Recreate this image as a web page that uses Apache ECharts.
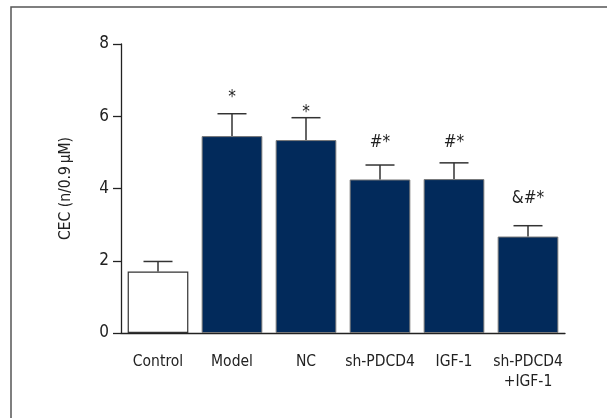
<!DOCTYPE html>
<html>
<head>
<meta charset="utf-8">
<script src="https://cdn.jsdelivr.net/npm/echarts@6/dist/echarts.min.js"></script>
<style>html,body{margin:0;padding:0;background:#fff}#c{width:607px;height:418px}</style>
</head>
<body>
<div id="c"></div>
<script>
var categories = ['Control', 'Model', 'NC', 'sh-PDCD4', 'IGF-1', 'sh-PDCD4\n+IGF-1'];
var means = [1.70, 5.45, 5.34, 4.25, 4.26, 2.67];
var errorTops = [1.98, 6.07, 5.96, 4.65, 4.71, 2.97];
var annotations = ['', '*', '*', '#*', '#*', '&#*'];
var annotationLevels = [null, 6.57, 6.16, 5.33, 5.33, 3.77];
var yTicks = [0, 2, 4, 6, 8];

var FONT = "'Liberation Sans Narrow','DejaVu Sans Condensed','Noto Sans',sans-serif";
var TXT = '#222';
var NAVY = '#022a5b';

var chart = echarts.init(document.getElementById('c'), null, {renderer: 'canvas'});

var barData = means.map(function (v, i) {
  return {
    value: v,
    itemStyle: i === 0
      ? {color: '#ffffff', borderColor: '#333', borderWidth: 1.2}
      : {color: NAVY, borderColor: '#777', borderWidth: 1}
  };
});

var errData = means.map(function (v, i) { return [i, v, errorTops[i]]; });
var annData = annotations.map(function (t, i) { return [i, annotationLevels[i], t]; })
  .filter(function (d) { return d[2]; });

chart.setOption({
  animation: false,
  textStyle: {fontFamily: FONT},
  grid: {left: 121, top: 44, right: 42, bottom: 85},
  xAxis: {
    type: 'category',
    data: categories,
    axisLine: {lineStyle: {color: '#222', width: 1.3}},
    axisTick: {alignWithLabel: true, length: 7, lineStyle: {color: '#222', width: 1.3}},
    axisLabel: {color: TXT, fontSize: 15.5, fontFamily: FONT, margin: 19, lineHeight: 20, interval: 0}
  },
  yAxis: {
    type: 'value',
    min: yTicks[0],
    max: yTicks[yTicks.length - 1],
    interval: 2,
    name: 'CEC (n/0.9\u2009μM)',
    nameLocation: 'middle',
    nameGap: 47,
    nameTextStyle: {color: TXT, fontSize: 15.5, fontFamily: FONT},
    axisLine: {show: true, lineStyle: {color: '#222', width: 1.3}},
    axisTick: {show: true, length: 8, lineStyle: {color: '#222', width: 1.3}},
    axisLabel: {color: TXT, fontSize: 17, fontFamily: FONT, margin: 12},
    splitLine: {show: false}
  },
  graphic: [{
    type: 'rect',
    shape: {x: 11, y: 7, width: 700, height: 500},
    style: {fill: 'none', stroke: '#555', lineWidth: 1.5},
    z: -1
  }],
  series: [
    {
      type: 'bar',
      data: barData,
      barWidth: '82%',
      z: 2
    },
    {
      type: 'custom',
      data: errData,
      z: 3,
      renderItem: function (params, api) {
        var x = api.value(0);
        var lo = api.coord([x, api.value(1)]);
        var hi = api.coord([x, api.value(2)]);
        var half = 14.5;
        var st = {stroke: '#333', lineWidth: 1.5, fill: 'none'};
        return {
          type: 'group',
          children: [
            {type: 'line', shape: {x1: lo[0], y1: lo[1], x2: hi[0], y2: hi[1]}, style: st},
            {type: 'line', shape: {x1: hi[0] - half, y1: hi[1], x2: hi[0] + half, y2: hi[1]}, style: st}
          ]
        };
      }
    },
    {
      type: 'custom',
      data: annData,
      z: 4,
      renderItem: function (params, api) {
        var p = api.coord([api.value(0), api.value(1)]);
        return {
          type: 'text',
          style: {
            x: p[0], y: p[1] + 2,
            text: annData[params.dataIndex][2],
            fill: TXT,
            font: '17px ' + FONT,
            textAlign: 'center',
            textVerticalAlign: 'middle'
          }
        };
      }
    }
  ]
});
</script>
</body>
</html>
